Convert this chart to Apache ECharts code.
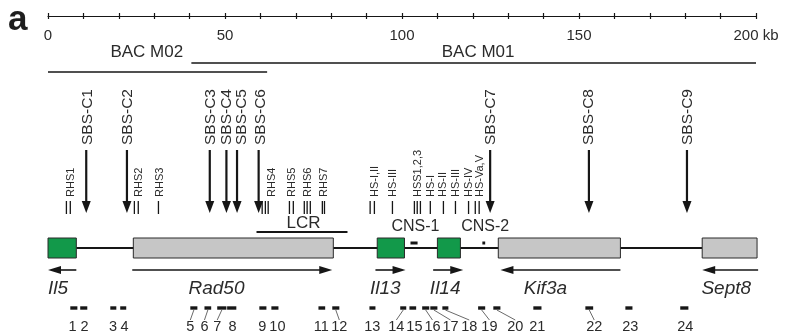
<!DOCTYPE html>
<html>
<head>
<meta charset="utf-8">
<script src="https://cdn.jsdelivr.net/npm/echarts@6/dist/echarts.min.js"></script>
<style>
  html, body { margin: 0; padding: 0; background: #fff; }
  #chart { width: 788px; height: 335px; }
</style>
</head>
<body>
<div id="chart"></div>
<script>
// --- data (positions in kb) ---
const scaleLabels = [0, 50, 100, 150, 200];

const bacNames = ['BAC M02', 'BAC M01'];
const bacStart = [0, 40.5];
const bacEnd = [61.9, 200];
const bacLabelKb = [27.9, 121.5];

const sbsNames = ['SBS-C1', 'SBS-C2', 'SBS-C3', 'SBS-C4', 'SBS-C5', 'SBS-C6', 'SBS-C7', 'SBS-C8', 'SBS-C9'];
const sbsKb = [10.8, 22.3, 45.7, 50.4, 53.4, 59.5, 124.9, 152.8, 180.5];
const sbsLabelKb = [11.3, 22.6, 45.9, 50.5, 54.7, 60.2, 125.2, 152.8, 180.6];

const hsNames = ['RHS1', 'RHS2', 'RHS3', 'RHS4', 'RHS5', 'RHS6', 'RHS7', 'HS-I,II', 'HS-III', 'HSS1,2,3', 'HS-I', 'HS-II', 'HS-III', 'HS-IV', 'HS-Va,V'];
const hsLabelKb = [6.6, 25.8, 31.7, 63.4, 69.0, 73.5, 78.0, 92.5, 97.5, 104.6, 108.3, 111.7, 115.3, 118.8, 122.1];
const hsSitesKb = [[5.2, 6.3], [24.4, 25.5], [31.2], [60.5, 61.4, 62.2], [68.2, 69.3], [72.4, 73.2, 74.1], [77.5, 78.1],
  [91.0, 92.2], [97.3], [103.5, 104.3, 105.2], [108.0], [111.7], [115.1], [118.8], [120.7, 121.8]];

const lcrStart = 58.9, lcrEnd = 84.6, lcrLabelKb = 72.2;
const cnsNames = ['CNS-1', 'CNS-2'];
const cnsStart = [102.4, 122.7];
const cnsEnd = [104.4, 123.5];
const cnsLabelKb = [103.8, 123.5];

const geneNames = ['Il5', 'Rad50', 'Il13', 'Il14', 'Kif3a', 'Sept8'];
const geneStart = [0, 24.1, 93.0, 110.0, 127.2, 184.8];
const geneEnd = [8.0, 80.6, 100.7, 116.5, 161.7, 200.3];
const geneIsCytokine = [true, false, true, true, false, false];
const arrowFrom = [8.0, 23.8, 92.5, 108.8, 161.7, 200.6];
const arrowTo = [0.0, 80.3, 101.0, 117.3, 127.8, 184.8];
const geneLabelKb = [2.8, 47.6, 95.3, 112.2, 140.5, 191.6];

const fragNames = ['1','2','3','4','5','6','7','8','9','10','11','12','13','14','15','16','17','18','19','20','21','22','23','24'];
const fragStart = [6.3, 9.1, 17.6, 20.4, 40.2, 44.2, 47.8, 50.6, 59.7, 63.1, 76.4, 80.3, 90.8, 99.5, 102.1, 105.7, 108.0, 111.4, 121.5, 125.8, 137.1, 151.8, 163.1, 178.6];
const fragEnd = [8.3, 11.1, 19.3, 22.1, 42.2, 46.1, 50.4, 53.2, 61.7, 65.1, 78.3, 82.3, 92.5, 101.2, 104.0, 107.7, 110.0, 113.1, 123.5, 127.8, 139.4, 154.0, 165.1, 180.9];
const fragLabelKb = [6.9, 10.3, 18.4, 21.6, 40.2, 44.2, 47.8, 52.1, 60.5, 64.8, 77.2, 82.3, 91.6, 98.4, 103.5, 108.6, 113.7, 119.0, 124.7, 132.0, 138.2, 154.3, 164.5, 180.0];

// --- layout ---
const FONT = '"Liberation Sans", Arial, Helvetica, sans-serif';
const INK = '#161616';
const TXT = '#2b2b2b';
const Y = {
  bacLabel: 52, bacLine: [72, 63],
  sbsTextBottom: 145, sbsTop: 150, sbsTip: 213,
  hsTextBottom: 197, hsTop: 201, hsBottom: 214,
  lcrText: 223, lcrLine: 232, cnsText: 227, cnsMark: 243,
  boxTop: 238, boxBottom: 258, backbone: 248,
  strand: 270, geneName: 289, frag: 308, fragNum: 327
};

function txt(x, y, text, font) {
  return {
    type: 'text', x: x, y: y,
    style: { text: text, font: font, fill: TXT, align: 'center', textAlign: 'center', verticalAlign: 'middle', textVerticalAlign: 'middle' }
  };
}
function vtxt(x, y, text, font) {
  return {
    type: 'text', x: x, y: y, rotation: Math.PI / 2,
    style: { text: text, font: font, fill: TXT, align: 'left', textAlign: 'left', verticalAlign: 'middle', textVerticalAlign: 'middle' }
  };
}
function seg(a, b, w) {
  return { type: 'line', shape: { x1: a[0], y1: a[1], x2: b[0], y2: b[1] }, style: { stroke: INK, lineWidth: w } };
}
function custom(data, render) {
  return { type: 'custom', data: data, renderItem: render, clip: false, silent: true, animation: false };
}

const chart = echarts.init(document.getElementById('chart'));

const series = [
  // BAC clones
  custom(bacNames.map((n, i) => [bacStart[i], bacEnd[i]]), (params, api) => {
    const i = params.dataIndex, y = Y.bacLine[i];
    const t = api.coord([bacLabelKb[i], Y.bacLabel]);
    return { type: 'group', children: [
      seg(api.coord([bacStart[i], y]), api.coord([bacEnd[i], y]), 1.5),
      txt(t[0], t[1], bacNames[i], '17px ' + FONT)
    ] };
  }),
  // SBS arrows
  custom(sbsKb.map(v => [v]), (params, api) => {
    const i = params.dataIndex;
    const top = api.coord([sbsKb[i], Y.sbsTop]);
    const tip = api.coord([sbsKb[i], Y.sbsTip]);
    const lab = api.coord([sbsLabelKb[i], Y.sbsTextBottom]);
    return { type: 'group', children: [
      seg(top, [tip[0], tip[1] - 9], 2.2),
      { type: 'polygon', shape: { points: [[tip[0] - 4.5, tip[1] - 12], [tip[0] + 4.5, tip[1] - 12], [tip[0], tip[1]]] }, style: { fill: INK } },
      vtxt(lab[0], lab[1], sbsNames[i], '15.5px ' + FONT)
    ] };
  }),
  // hypersensitive sites
  custom(hsNames.map((n, i) => [hsLabelKb[i]]), (params, api) => {
    const i = params.dataIndex;
    const kids = hsSitesKb[i].map(k => seg(api.coord([k, Y.hsTop]), api.coord([k, Y.hsBottom]), 1.3));
    const lab = api.coord([hsLabelKb[i], Y.hsTextBottom]);
    kids.push(vtxt(lab[0], lab[1], hsNames[i], '11px ' + FONT));
    return { type: 'group', children: kids };
  }),
  // backbone
  custom([[geneStart[0], geneEnd[geneEnd.length - 1]]], (params, api) => ({
    type: 'group', children: [seg(api.coord([geneEnd[0], Y.backbone]), api.coord([geneStart[geneStart.length - 1], Y.backbone]), 2)]
  })),
  // LCR and CNS
  custom([[lcrStart, lcrEnd]], (params, api) => {
    const t = api.coord([lcrLabelKb, Y.lcrText]);
    return { type: 'group', children: [
      seg(api.coord([lcrStart, Y.lcrLine]), api.coord([lcrEnd, Y.lcrLine]), 2),
      txt(t[0], t[1], 'LCR', '17px ' + FONT)
    ] };
  }),
  custom(cnsNames.map((n, i) => [cnsStart[i], cnsEnd[i]]), (params, api) => {
    const i = params.dataIndex;
    const a = api.coord([cnsStart[i], Y.cnsMark]), b = api.coord([cnsEnd[i], Y.cnsMark]);
    const t = api.coord([cnsLabelKb[i], Y.cnsText]);
    return { type: 'group', children: [
      { type: 'rect', shape: { x: a[0], y: a[1] - 1.5, width: b[0] - a[0], height: 3 }, style: { fill: INK } },
      txt(t[0], t[1], cnsNames[i], '16px ' + FONT)
    ] };
  }),
  // genes
  custom(geneNames.map((n, i) => [geneStart[i], geneEnd[i]]), (params, api) => {
    const i = params.dataIndex;
    const a = api.coord([geneStart[i], Y.boxTop]), b = api.coord([geneEnd[i], Y.boxBottom]);
    const f = api.coord([arrowFrom[i], Y.strand]), e = api.coord([arrowTo[i], Y.strand]);
    const dir = e[0] > f[0] ? 1 : -1;
    const t = api.coord([geneLabelKb[i], Y.geneName]);
    return { type: 'group', children: [
      { type: 'rect', shape: { x: a[0], y: a[1], width: b[0] - a[0], height: b[1] - a[1] },
        style: { fill: geneIsCytokine[i] ? '#12994a' : '#c6c6c6', stroke: '#2a2a2a', lineWidth: 1 } },
      seg(f, [e[0] - dir * 8, e[1]], 1.6),
      { type: 'polygon', shape: { points: [[e[0] - dir * 13, e[1] - 4], [e[0] - dir * 13, e[1] + 4], [e[0], e[1]]] }, style: { fill: INK } },
      txt(t[0], t[1], geneNames[i], 'italic 19px ' + FONT)
    ] };
  }),
  // fragments
  custom(fragNames.map((n, i) => [fragStart[i], fragEnd[i]]), (params, api) => {
    const i = params.dataIndex;
    const a = api.coord([fragStart[i], Y.frag]), b = api.coord([fragEnd[i], Y.frag]);
    const t = api.coord([fragLabelKb[i], Y.fragNum]);
    const kids = [
      { type: 'rect', shape: { x: a[0], y: a[1] - 1.7, width: b[0] - a[0], height: 3.4 }, style: { fill: INK } },
      txt(t[0], t[1], fragNames[i], '14.5px ' + FONT)
    ];
    const mid = (a[0] + b[0]) / 2;
    if (Math.abs(t[0] - mid) > 3) {
      kids.push({ type: 'line', shape: { x1: mid, y1: a[1] + 2, x2: t[0], y2: t[1] - 7 }, style: { stroke: '#444', lineWidth: 0.8 } });
    }
    return { type: 'group', children: kids };
  })
];

chart.setOption({
  animation: false,
  grid: { left: 48, right: 32, top: 16, bottom: 0 },
  xAxis: [
    {
      type: 'value', min: 0, max: 200, interval: 10, position: 'top',
      axisLine: { show: true, onZero: false, lineStyle: { color: INK, width: 1.2 } },
      axisTick: { show: true, inside: false, length: 3, lineStyle: { color: INK, width: 1.2 } },
      axisLabel: { show: false }, splitLine: { show: false }
    },
    {
      type: 'value', min: 0, max: 200, interval: 10, position: 'top',
      axisLine: { show: false, onZero: false },
      axisTick: { show: true, inside: true, length: 3, lineStyle: { color: INK, width: 1.2 } },
      axisLabel: {
        show: true, inside: true, margin: 12, fontSize: 15, fontFamily: FONT, color: TXT,
        formatter: v => scaleLabels.indexOf(v) < 0 ? '' : (v === 200 ? v + ' kb' : String(v))
      },
      splitLine: { show: false }
    }
  ],
  yAxis: { type: 'value', min: 16, max: 335, inverse: true, show: false },
  graphic: [
    { type: 'text', left: 8, top: 3, style: { text: 'a', font: 'bold 35px ' + FONT, fill: '#1e1e1e' } }
  ],
  series: series
});
</script>
</body>
</html>
